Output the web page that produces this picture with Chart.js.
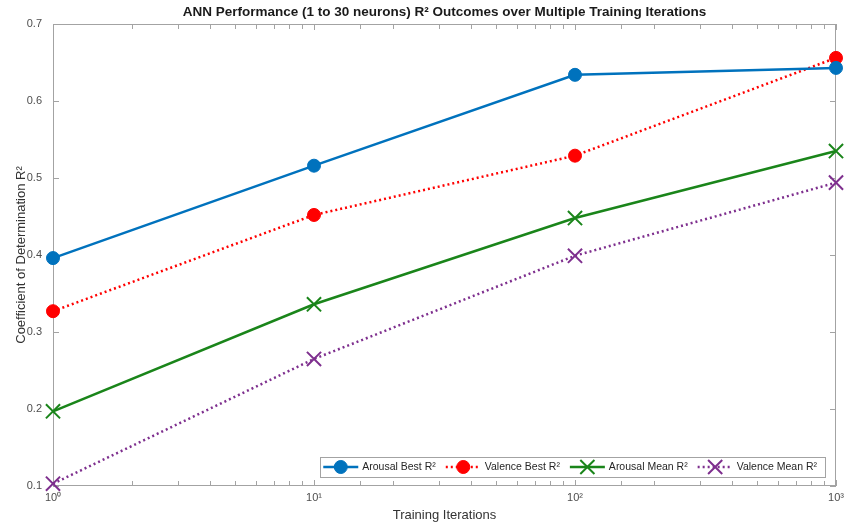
<!DOCTYPE html>
<html>
<head>
<meta charset="utf-8">
<script src="https://cdn.jsdelivr.net/npm/chart.js@4.4.1/dist/chart.umd.min.js"></script>
<style>
  body { margin: 0; background: #fff; }
</style>
</head>
<body>
<canvas id="ann" width="851" height="525"></canvas>
<script>
// values
const iterations = [1, 10, 100, 1000];
const arousalBest = [0.396, 0.516, 0.634, 0.643];
const valenceBest = [0.327, 0.452, 0.529, 0.656];
const arousalMean = [0.197, 0.336, 0.448, 0.535];
const valenceMean = [0.103, 0.265, 0.399, 0.494];

const seriesNames = ["Arousal Best R²", "Valence Best R²", "Arousal Mean R²", "Valence Mean R²"];
const titleText = "ANN Performance (1 to 30 neurons) R² Outcomes over Multiple Training Iterations";
const sup = { 1: "10⁰", 10: "10¹", 100: "10²", 1000: "10³" };

const FONT = "'Liberation Sans', Arial, sans-serif";

function pts(vals) {
  return iterations.map((x, i) => ({ x: x, y: vals[i] }));
}

// box with inward ticks, title and legend, drawn like the matlab figure
const matlabAxes = {
  id: "matlabAxes",
  beforeDatasetsDraw(chart) {
    const { ctx, chartArea: a, scales } = chart;
    ctx.save();
    ctx.strokeStyle = "#a3a3a3";
    ctx.lineWidth = 1;
    ctx.strokeRect(a.left + 0.5, a.top + 0.5, a.right - a.left - 1, a.bottom - a.top - 1);
    ctx.beginPath();
    scales.x.ticks.forEach(t => {
      const px = Math.round(scales.x.getPixelForValue(t.value)) + 0.5;
      const len = sup[t.value] ? 6 : 5;
      ctx.moveTo(px, a.bottom); ctx.lineTo(px, a.bottom - len);
      ctx.moveTo(px, a.top); ctx.lineTo(px, a.top + len);
    });
    scales.y.ticks.forEach(t => {
      const py = Math.round(scales.y.getPixelForValue(t.value)) + 0.5;
      ctx.moveTo(a.left, py); ctx.lineTo(a.left + 6, py);
      ctx.moveTo(a.right, py); ctx.lineTo(a.right - 6, py);
    });
    ctx.stroke();

    // title over the axes
    ctx.fillStyle = "#1a1a1a";
    ctx.font = "bold 13.5px " + FONT;
    ctx.textAlign = "center";
    ctx.textBaseline = "middle";
    ctx.fillText(titleText, (a.left + a.right) / 2, 12);
    ctx.restore();
  },
  afterDatasetsDraw(chart) {
    const { ctx, chartArea: a } = chart;
    const sets = chart.data.datasets;
    ctx.save();
    ctx.font = "10.5px " + FONT;
    const sample = 35, gapText = 4, gapItem = 10, padL = 3, padR = 8;
    let w = padL + padR;
    sets.forEach((ds, i) => {
      w += sample + gapText + ctx.measureText(ds.label).width + (i < sets.length - 1 ? gapItem : 0);
    });
    const h = 20;
    const right = a.right - 11, bottom = a.bottom - 9;
    const left = right - w, top = bottom - h;
    ctx.fillStyle = "#fff";
    ctx.fillRect(left, top, w, h);
    ctx.strokeStyle = "#a3a3a3";
    ctx.lineWidth = 1;
    ctx.strokeRect(Math.round(left) + 0.5, Math.round(top) + 0.5, Math.round(w), h);
    let x = left + padL;
    const cy = top + h / 2;
    sets.forEach(ds => {
      ctx.save();
      ctx.strokeStyle = ds.borderColor;
      ctx.lineWidth = ds.borderWidth;
      ctx.setLineDash(ds.borderDash || []);
      ctx.beginPath();
      ctx.moveTo(x, cy); ctx.lineTo(x + sample, cy);
      ctx.stroke();
      ctx.setLineDash([]);
      ctx.fillStyle = ds.pointBackgroundColor;
      ctx.lineWidth = ds.pointBorderWidth;
      Chart.helpers.drawPoint(ctx, {
        pointStyle: ds.pointStyle,
        radius: ds.pointRadius,
        borderWidth: ds.pointBorderWidth
      }, x + sample / 2, cy);
      ctx.restore();
      ctx.fillStyle = "#262626";
      ctx.textAlign = "left";
      ctx.textBaseline = "middle";
      x += sample + gapText;
      ctx.fillText(ds.label, x, cy);
      x += ctx.measureText(ds.label).width + gapItem;
    });
    ctx.restore();
  }
};

function series(label, vals, color, dashed, style) {
  const circle = style === "circle";
  return {
    label: label,
    data: pts(vals),
    borderColor: color,
    backgroundColor: color,
    borderWidth: 2.5,
    borderDash: dashed ? [2, 3] : [],
    pointStyle: style,
    pointRadius: circle ? 6.5 : 10,
    pointHoverRadius: circle ? 6.5 : 10,
    pointBorderWidth: circle ? 1 : 2,
    pointBackgroundColor: color,
    pointBorderColor: color,
    tension: 0,
    clip: false
  };
}

new Chart(document.getElementById("ann"), {
  type: "line",
  data: {
    datasets: [
      series(seriesNames[0], arousalBest, "#0072BD", false, "circle"),
      series(seriesNames[1], valenceBest, "#FF0000", true, "circle"),
      series(seriesNames[2], arousalMean, "#1A851A", false, "crossRot"),
      series(seriesNames[3], valenceMean, "#7E2F8E", true, "crossRot")
    ]
  },
  plugins: [matlabAxes],
  options: {
    responsive: false,
    animation: false,
    devicePixelRatio: 1,
    layout: { padding: { top: 24, right: 15, left: 0, bottom: 0 } },
    plugins: {
      legend: { display: false },
      title: { display: false },
      tooltip: { enabled: false }
    },
    scales: {
      x: {
        type: "logarithmic",
        min: 1,
        max: 1000,
        grid: { display: false, drawTicks: false },
        border: { display: false },
        ticks: {
          autoSkip: false,
          maxRotation: 0,
          padding: 5,
          color: "#4d4d4d",
          font: { family: FONT, size: 11 },
          callback: v => sup[v] || ""
        },
        title: {
          display: true,
          text: "Training Iterations",
          color: "#333",
          font: { family: FONT, size: 13 },
          padding: { top: 0, bottom: 2 }
        },
        afterFit: s => { s.height = 39; }
      },
      y: {
        min: 0.1,
        max: 0.7,
        grid: { display: false, drawTicks: false },
        border: { display: false },
        ticks: {
          stepSize: 0.1,
          padding: 11,
          color: "#4d4d4d",
          font: { family: FONT, size: 11 },
          callback: v => v.toFixed(1)
        },
        title: {
          display: true,
          text: "Coefficient of Determination R²",
          color: "#333",
          font: { family: FONT, size: 13 },
          padding: { top: 14, bottom: 0 }
        },
        afterFit: s => { s.width = 53; }
      }
    }
  }
});
</script>
</body>
</html>
